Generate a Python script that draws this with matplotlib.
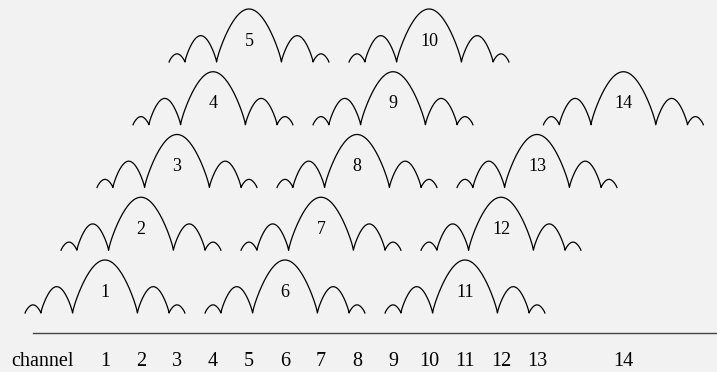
import numpy as np
import matplotlib.pyplot as plt

# channel numbers, centre frequencies (MHz) and which row they sit in
channels = list(range(1, 15))
centers = [2412 + 5 * (c - 1) for c in range(1, 14)] + [2484]
rows = [(c - 1) % 5 for c in range(1, 14)] + [3]

# spectral mask lobes, left to right (width in MHz, height in row units)
lobe_widths = [2.2, 4.4, 9.0, 4.4, 2.2]
lobe_heights = [0.13, 0.42, 0.845, 0.42, 0.13]

bg = '#f2f2f2'
plt.rcParams['font.family'] = ['Liberation Serif', 'DejaVu Serif']

fig = plt.figure(figsize=(7.17, 3.72), dpi=100, facecolor=bg)
ax = fig.add_axes([0, 0, 1, 1], facecolor=bg)


def lobe_curve(center):
    xs, ys = [], []
    start = center - sum(lobe_widths) / 2
    for w, h in zip(lobe_widths, lobe_heights):
        t = np.linspace(0, 1, 80)
        xs.append(start + t * w)
        ys.append(h * np.sin(np.pi * t) ** 0.8)
        start += w
    return np.concatenate(xs), np.concatenate(ys)


for ch, f, r in zip(channels, centers, rows):
    x, y = lobe_curve(f)
    ax.plot(x, y + r, color='black', lw=0.9)
    ax.text(f, r + 0.26, str(ch), ha='center', va='baseline', fontsize=13)
    ax.text(f, -0.85, str(ch), ha='center', va='baseline', fontsize=14.5)

ax.text(2407.7, -0.85, 'channel', ha='right', va='baseline', fontsize=14.5)
ax.plot([2402.0, 2500], [-0.325, -0.325], color='#444444', lw=1.0)

ax.set_xlim(2397.42, 2497.0)
ax.set_ylim(-0.94, 4.988)
ax.axis('off')

fig.savefig('out.png', dpi=100, facecolor=bg)
